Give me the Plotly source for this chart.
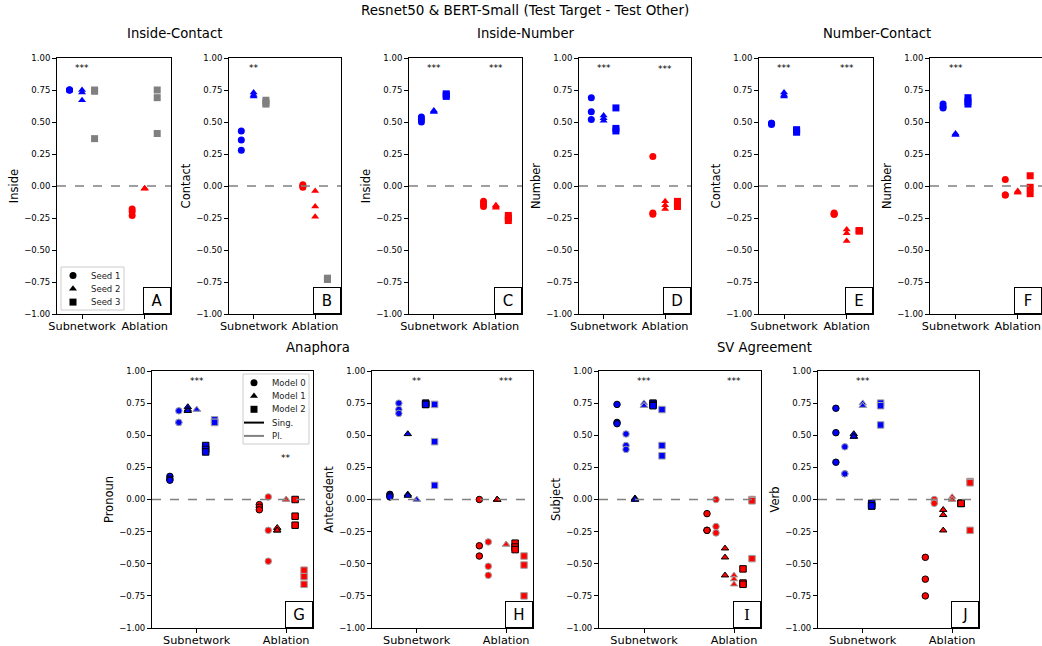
import plotly.graph_objects as go

W, H = 1042, 646
FONT = "DejaVu Sans"

# ---------------- data ----------------
GROUPS = ["Subnetwork", "Ablation"]
SEEDS = ["Seed 1", "Seed 2", "Seed 3"]
MODELS = ["Model 0", "Model 1", "Model 2"]
NUMBERS = ["Sing.", "Pl."]
Y_TICKS = [-1.0, -0.75, -0.5, -0.25, 0.0, 0.25, 0.5, 0.75, 1.0]

# top row: per group, per seed, three values
A_sub = [[0.75, 0.75, 0.75], [0.75, 0.73, 0.67], [0.75, 0.74, 0.37]]
A_abl = [[-0.18, -0.20, -0.23], [-0.02, -0.02, -0.02], [0.75, 0.69, 0.41]]
B_sub = [[0.43, 0.36, 0.28], [0.73, 0.71, 0.70], [0.67, 0.65, 0.64]]
B_abl = [[0.01, 0.00, -0.01], [-0.04, -0.16, -0.24], [-0.72, -0.73, -0.73]]
C_sub = [[0.54, 0.52, 0.50], [0.59, 0.58, 0.58], [0.72, 0.71, 0.70]]
C_abl = [[-0.12, -0.14, -0.16], [-0.15, -0.16, -0.17], [-0.23, -0.25, -0.27]]
D_sub = [[0.69, 0.58, 0.52], [0.55, 0.53, 0.51], [0.61, 0.45, 0.43]]
D_abl = [[0.23, -0.21, -0.22], [-0.12, -0.15, -0.18], [-0.12, -0.14, -0.16]]
E_sub = [[0.49, 0.49, 0.48], [0.73, 0.71, 0.70], [0.44, 0.43, 0.42]]
E_abl = [[-0.21, -0.22, -0.22], [-0.34, -0.37, -0.43], [-0.35, -0.35, -0.35]]
F_sub = [[0.64, 0.62, 0.61], [0.41, 0.40, 0.40], [0.69, 0.66, 0.64]]
F_abl = [[0.05, -0.07, -0.07], [-0.04, -0.05, -0.05], [0.08, -0.01, -0.06]]

# bottom row: per group, [M0 Sing, M0 Pl, M1 Sing, M1 Pl, M2 Sing, M2 Pl]
G_sub = [[0.18, 0.16, 0.15], [0.69, 0.60, 0.60], [0.72, 0.70, 0.69],
         [0.70, 0.70, 0.70], [0.42, 0.39, 0.37], [0.62, 0.60, 0.60]]
G_abl = [[-0.04, -0.06, -0.08], [0.02, -0.24, -0.48], [-0.22, -0.24, -0.24],
         [0.00, 0.00, 0.00], [0.00, -0.13, -0.20], [-0.55, -0.60, -0.66]]
H_sub = [[0.04, 0.03, 0.02], [0.75, 0.70, 0.67], [0.51, 0.04, 0.03],
         [0.00, 0.00, 0.00], [0.75, 0.74, 0.74], [0.74, 0.45, 0.11]]
H_abl = [[0.00, -0.36, -0.44], [-0.33, -0.52, -0.59], [0.00, 0.00, 0.00],
         [-0.35, -0.35, -0.35], [-0.34, -0.37, -0.39], [-0.44, -0.51, -0.75]]
I_sub = [[0.74, 0.60, 0.59], [0.51, 0.42, 0.39], [0.01, 0.00, 0.00],
         [0.75, 0.73, 0.73], [0.75, 0.74, 0.73], [0.70, 0.42, 0.34]]
I_abl = [[-0.11, -0.24, -0.24], [0.00, -0.21, -0.26], [-0.38, -0.45, -0.59],
         [-0.59, -0.62, -0.66], [-0.54, -0.65, -0.66], [0.00, -0.01, -0.46]]
J_sub = [[0.71, 0.52, 0.29], [0.41, 0.20, 0.20], [0.51, 0.49, 0.49],
         [0.75, 0.73, 0.73], [-0.03, -0.05, -0.05], [0.75, 0.73, 0.58]]
J_abl = [[-0.45, -0.62, -0.75], [0.00, -0.02, -0.03], [-0.08, -0.12, -0.24],
         [0.02, 0.00, 0.00], [-0.03, -0.03, -0.03], [0.14, 0.13, -0.24]]

TOP_YLABELS = ["Inside", "Contact", "Inside", "Number", "Contact", "Number"]
BOT_YLABELS = ["Pronoun", "Antecedent", "Subject", "Verb"]
LETTERS = ["A", "B", "C", "D", "E", "F", "G", "H", "I", "J"]
STARS = [["***", ""], ["**", ""], ["***", "***"], ["***", "***"], ["***", "***"],
         ["***", ""], ["***", "**"], ["**", "***"], ["***", "***"], ["***", ""]]
GROUP_TITLES = ["Inside-Contact", "Inside-Number", "Number-Contact", "Anaphora", "SV Agreement"]
MAIN_TITLE = "Resnet50 & BERT-Small (Test Target - Test Other)"

TOP_DATA = [(A_sub, A_abl), (B_sub, B_abl), (C_sub, C_abl),
            (D_sub, D_abl), (E_sub, E_abl), (F_sub, F_abl)]
BOT_DATA = [(G_sub, G_abl), (H_sub, H_abl), (I_sub, I_abl), (J_sub, J_abl)]

# ---------------- styles / layout ----------------
BLUE, RED, GRAY = "#0000ff", "#ff0000", "#808080"
SYMBOLS = ["circle", "triangle-up", "square"]
TOP_COLORS = [[[BLUE, BLUE, GRAY], [RED, RED, GRAY]],
              [[BLUE, BLUE, GRAY], [RED, RED, GRAY]]] + [[[BLUE] * 3, [RED] * 3]] * 4
GROUP_COLORS = [BLUE, RED]
EDGE = {"Sing.": "#000000", "Pl.": "#a0a0a0"}

TOP_BOX = [(57, 171), (229, 341), (409, 522), (579, 691), (759, 873), (930, 1042)]
TOP_Y = (58, 314)
BOT_BOX = [(152, 313), (372, 533), (599, 761), (818, 979)]
BOT_Y = (371, 628)
TOP_XR = [[-0.4, 1.42]] * 5 + [[-0.41, 1.39]]
BOT_XR = [-0.5, 1.3]
STAR_Y = [[0.925, 0.925]] * 3 + [[0.925, 0.915]] + [[0.925, 0.925]] * 2 + \
         [[0.925, 0.325], [0.925, 0.925], [0.925, 0.925], [0.925, 0.925]]
TITLE_POS = [(174, 34), (526, 34), (877, 34), (318, 347), (764, 347)]

# legend boxes in pixels: (x0, y0, x1, y1), symbol x, text x, first row y, row step
LEG_A = dict(box=(61, 267, 124, 310), sx=73, tx=89, y0=275.5, dy=13.3)
LEG_G = dict(box=(243, 374, 309, 444), sx=254, tx=270, y0=382.7, dy=13.3)

fig = go.Figure()
layout = {}
annotations = []
shapes = []


def setup_axes(i, xbox, ybox, xrange, ylabel):
    n = i + 1
    xk = "xaxis" if n == 1 else f"xaxis{n}"
    yk = "yaxis" if n == 1 else f"yaxis{n}"
    xa = "x" if n == 1 else f"x{n}"
    ya = "y" if n == 1 else f"y{n}"
    layout[xk] = dict(
        domain=[xbox[0] / W, xbox[1] / W], anchor=ya, range=xrange,
        tickvals=[0, 1], ticktext=GROUPS, ticks="outside", ticklen=4,
        tickcolor="black", showline=True, linecolor="black", linewidth=1,
        mirror=True, showgrid=False, zeroline=False, automargin=False,
        ticklabelstandoff=-3,
        tickfont=dict(family=FONT, size=11.3, color="black"))
    layout[yk] = dict(
        domain=[1 - ybox[1] / H, 1 - ybox[0] / H], anchor=xa, range=[-1, 1],
        tickvals=Y_TICKS, ticktext=[f"{v:.2f}".replace("-", "\u2212") for v in Y_TICKS],
        ticks="outside", ticklen=4, tickcolor="black", showline=True,
        linecolor="black", linewidth=1, mirror=True, showgrid=False,
        zeroline=False, automargin=False,
        tickfont=dict(family=FONT, size=8.5, color="black"),
        title=dict(text=ylabel, font=dict(family=FONT, size=11.5, color="black"),
                   standoff=3))
    shapes.append(dict(type="line", xref=f"{xa} domain", yref=ya, x0=0, x1=1,
                       y0=0, y1=0, layer="above",
                       line=dict(color=GRAY, width=1.3, dash="dash")))
    font = "DejaVu Serif" if LETTERS[i] == "I" else FONT
    annotations.append(dict(xref=f"{xa} domain", yref=f"{ya} domain", x=1, y=0,
                            xanchor="right", yanchor="bottom", text=LETTERS[i],
                            showarrow=False, bordercolor="black", borderwidth=1,
                            bgcolor="white", width=20, height=19, borderpad=3,
                            font=dict(family=font, size=15, color="black")))
    for g in range(2):
        if STARS[i][g]:
            annotations.append(dict(xref=xa, yref=ya, x=g, y=STAR_Y[i][g],
                                    text=STARS[i][g], showarrow=False,
                                    font=dict(family=FONT, size=9, color="black")))
    return xa, ya


# top row
for i, (sub, abl) in enumerate(TOP_DATA):
    xa, ya = setup_axes(i, TOP_BOX[i], TOP_Y, TOP_XR[i], TOP_YLABELS[i])
    for g, grp in enumerate((sub, abl)):
        for s, vals in enumerate(grp):
            fig.add_trace(go.Scatter(
                x=[g + (s - 1) * 0.2] * len(vals), y=vals, mode="markers",
                xaxis=xa, yaxis=ya, showlegend=False, hoverinfo="skip",
                marker=dict(symbol=SYMBOLS[s], size=7, color=TOP_COLORS[i][g][s],
                            line=dict(width=0))))

# bottom row
for j, (sub, abl) in enumerate(BOT_DATA):
    i = j + 6
    xa, ya = setup_axes(i, BOT_BOX[j], BOT_Y, BOT_XR, BOT_YLABELS[j])
    for g, grp in enumerate((sub, abl)):
        for k, vals in enumerate(grp):
            m, num = k // 2, NUMBERS[k % 2]
            fig.add_trace(go.Scatter(
                x=[g + (k - 3) * 0.1] * len(vals), y=vals, mode="markers",
                xaxis=xa, yaxis=ya, showlegend=False, hoverinfo="skip",
                marker=dict(symbol=SYMBOLS[m], size=6.5, color=GROUP_COLORS[g],
                            line=dict(width=1, color=EDGE[num]))))

# ---------------- legends (drawn on a hidden pixel-space overlay axis) ----------------
layout["xaxis11"] = dict(domain=[0, 1], range=[0, W], visible=False, fixedrange=True,
                         anchor="y11")
layout["yaxis11"] = dict(domain=[0, 1], range=[H, 0], visible=False, fixedrange=True,
                         anchor="x11")


def draw_legend(spec, entries):
    x0, y0, x1, y1 = spec["box"]
    shapes.append(dict(type="rect", xref="x11", yref="y11", x0=x0, x1=x1, y0=y0, y1=y1,
                       line=dict(color="#cccccc", width=1),
                       fillcolor="rgba(255,255,255,0.85)", layer="below"))
    for r, (label, kind, style) in enumerate(entries):
        yy = spec["y0"] + r * spec["dy"]
        if kind == "marker":
            fig.add_trace(go.Scatter(x=[spec["sx"]], y=[yy], mode="markers",
                                     xaxis="x11", yaxis="y11", showlegend=False,
                                     hoverinfo="skip",
                                     marker=dict(symbol=style, size=7, color="black")))
        else:
            shapes.append(dict(type="line", xref="x11", yref="y11",
                               x0=spec["sx"] - 10, x1=spec["sx"] + 10, y0=yy, y1=yy,
                               layer="above", line=dict(color=style, width=2)))
        annotations.append(dict(xref="x11", yref="y11", x=spec["tx"], y=yy,
                                xanchor="left", yanchor="middle", text=label,
                                showarrow=False,
                                font=dict(family=FONT, size=8.5, color="#222222")))


draw_legend(LEG_A, [(SEEDS[s], "marker", SYMBOLS[s]) for s in range(3)])
draw_legend(LEG_G, [(MODELS[m], "marker", SYMBOLS[m]) for m in range(3)] +
            [(NUMBERS[0], "line", "black"), (NUMBERS[1], "line", GRAY)])

for t, (px, py) in zip(GROUP_TITLES, TITLE_POS):
    annotations.append(dict(xref="paper", yref="paper", x=px / W, y=1 - py / H,
                            text=t, showarrow=False, xanchor="center", yanchor="middle",
                            font=dict(family=FONT, size=13.2, color="black")))
annotations.append(dict(xref="paper", yref="paper", x=525 / W, y=1 - 10 / H,
                        text=MAIN_TITLE, showarrow=False, xanchor="center",
                        yanchor="middle", font=dict(family=FONT, size=13.5, color="black")))

fig.update_layout(width=W, height=H, margin=dict(l=0, r=0, t=0, b=0),
                  plot_bgcolor="rgba(0,0,0,0)", paper_bgcolor="white",
                  annotations=annotations, shapes=shapes, showlegend=False, **layout)

fig.write_html("out.html", config={"displayModeBar": False},
               post_script="document.body.style.margin='0';"
                           "document.body.style.overflow='hidden';")
